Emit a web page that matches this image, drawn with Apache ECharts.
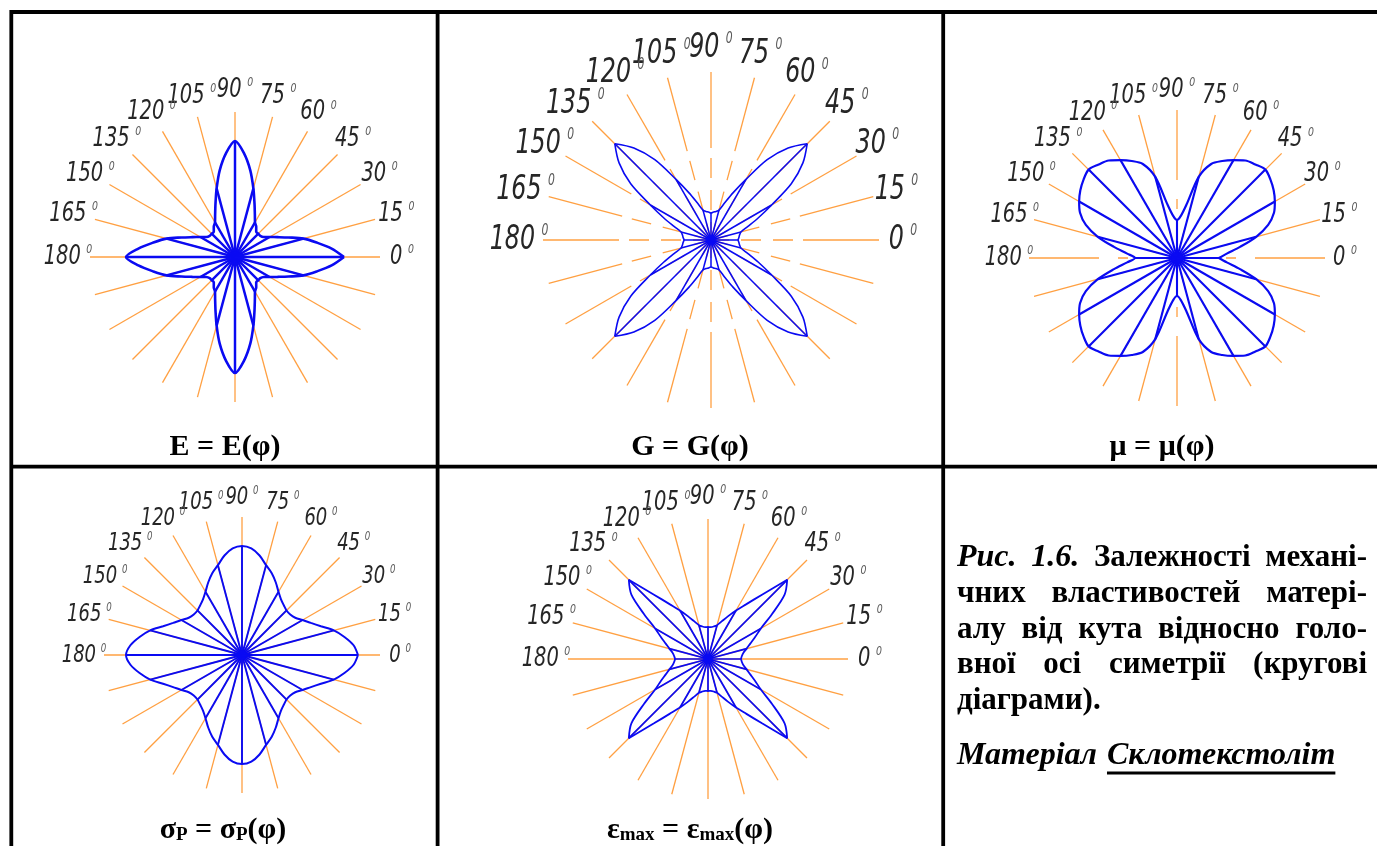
<!DOCTYPE html>
<html><head><meta charset="utf-8">
<script src="https://cdn.jsdelivr.net/npm/echarts@6/dist/echarts.min.js"></script>
<style>html,body{margin:0;padding:0;background:#fff}#c{width:1377px;height:846px}</style>
</head><body><div id="c"></div>
<script>
// ---------- data ----------
const angles = [0,5,10,15,20,25,30,35,40,45,50,55,60,65,70,75,80,85,90,95,100,105,110,115,120,125,130,135,140,145,150,155,160,165,170,175,180,185,190,195,200,205,210,215,220,225,230,235,240,245,250,255,260,265,270,275,280,285,290,295,300,305,310,315,320,325,330,335,340,345,350,355];
const spokeAngles = [0,15,30,45,60,75,90,105,120,135,150,165,180,195,210,225,240,255,270,285,300,315,330,345];
const labelAngles = [0,15,30,45,60,75,90,105,120,135,150,165,180];

// E = E(phi)
const rE = [109,97,83,71,57,47,40,35,33,33,33,37,40,47,57,71,88,104,116,
            104,88,71,57,47,40,37,33,33,33,35,40,47,57,71,83,97,
            109,97,83,71,57,47,40,35,33,33,33,37,40,47,57,71,88,104,116,
            104,88,71,57,47,40,37,33,33,33,35,40,47,57,71,83,97];
// G = G(phi)
const rG = [27,28,29,31,39,52,70,98,120,136,120,98,70,52,39,31,29,28,
            27,28,29,31,39,52,70,98,120,136,120,98,70,52,39,31,29,28,
            27,28,29,31,39,52,70,98,120,136,120,98,70,52,39,31,29,28,
            27,28,29,31,39,52,70,98,120,136,120,98,70,52,39,31,29,28];
// mu = mu(phi)
const rMu = [42,50,64,82,97,107,113,118,122,125,122,119,113,107,100,84,54,42,38,
             42,54,84,100,107,113,119,122,125,122,118,113,107,97,82,64,50,
             42,50,64,82,97,107,113,118,122,125,122,119,113,107,100,84,54,42,38,
             42,54,84,100,107,113,119,122,125,122,118,113,107,97,82,64,50];
// sigmaP = sigmaP(phi)
const rSigma = [116,112,104,95,84,76,70,65,63,63,65,68,73,80,87,93,101,107,109,
                107,101,93,87,80,73,68,65,63,63,65,70,76,84,95,104,112,
                116,112,104,95,84,76,70,65,63,63,65,68,73,80,87,93,101,107,109,
                107,101,93,87,80,73,68,65,63,63,65,70,76,84,95,104,112];
// eps_max = eps_max(phi)
const rEps = [33,34,36,40,45,52,61,78,100,112,84,67,56,47,40,35,33,32,32,
              32,33,35,40,47,56,67,84,112,100,78,61,52,45,40,36,34,
              33,34,36,40,45,52,61,78,100,112,84,67,56,47,40,35,33,32,32,
              32,33,35,40,47,56,67,84,112,100,78,61,52,45,40,36,34];

const titles = [
  [['E = E(φ)','b']],
  [['G = G(φ)','b']],
  [['μ = μ(φ)','b']],
  [['σ','b'],['P','s'],[' = σ','b'],['P','s'],['(φ)','b']],
  [['ε','b'],['max','s'],[' = ε','b'],['max','s'],['(φ)','b']]
];
const captionLines = [
  [['Рис.','bi'],['1.6.','bi'],['Залежності','b'],['механі-','b']],
  [['чних','b'],['властивостей','b'],['матері-','b']],
  [['алу','b'],['від','b'],['кута','b'],['відносно','b'],['голо-','b']],
  [['вної','b'],['осі','b'],['симетрії','b'],['(кругові','b']],
  [['діаграми).','b']]
];
const materialLabel = 'Матеріал';
const materialName = 'Склотекстоліт';

// ---------- layout / style ----------
const BLUE = '#0a0af2', ORANGE = '#ffa042';
const LABEL_FONT = "'Liberation Sans Narrow','DejaVu Sans Condensed','Roboto Condensed',Roboto,sans-serif";
const SERIF = "'Liberation Serif','Times New Roman','DejaVu Serif',serif";
const cfgs = [
  {vals:rE,     cx:235,  cy:257, R:145, labelR:167, fs:27, sfs:13, lw:2.6, dot:12, solidFrom:0,  tx:225,  ty:447},
  {vals:rG,     cx:711,  cy:240, R:168, labelR:192, fs:33, sfs:15, lw:1.6, dot:11, solidFrom:92, dash:[20,12], dashOffset:22, tx:690, ty:447},
  {vals:rMu,    cx:1177, cy:258, R:148, labelR:168, fs:27, sfs:13, lw:2.2, dot:12, solidFrom:78, dash:[10,19], dashOffset:10, tx:1162, ty:447},
  {vals:rSigma, cx:242,  cy:655, R:138, labelR:158, fs:25, sfs:12, lw:2.0, dot:10, solidFrom:0,  tx:223,  ty:830},
  {vals:rEps,   cx:708,  cy:659, R:140, labelR:162, fs:27, sfs:13, lw:1.8, dot:10, solidFrom:0,  tx:690,  ty:830}
];

const chart = echarts.init(document.getElementById('c'), null, {renderer:'canvas', width:1377, height:846});

const polar = [], angleAxis = [], radiusAxis = [], series = [];
cfgs.forEach((c, i) => {
  polar.push({center:[c.cx, c.cy], radius:c.R});
  angleAxis.push({polarIndex:i, type:'value', min:0, max:360, interval:15, startAngle:0, clockwise:false,
    axisLine:{show:false}, axisTick:{show:false}, axisLabel:{show:false}, splitLine:{show:false}});
  radiusAxis.push({polarIndex:i, type:'value', min:0, max:c.R,
    axisLine:{show:false}, axisTick:{show:false}, axisLabel:{show:false}, splitLine:{show:false}, splitArea:{show:false}});

  // orange reference spokes
  series.push({
    type:'custom', coordinateSystem:'polar', polarIndex:i, silent:true, z:1,
    data: spokeAngles.map(a => [0, a]),
    renderItem: (params, api) => {
      const a = api.value(1);
      const pEnd = api.coord([c.R, a]);
      const pMid = api.coord([c.solidFrom, a]);
      const children = [{type:'line', shape:{x1:pMid[0], y1:pMid[1], x2:pEnd[0], y2:pEnd[1]},
        style:{stroke:ORANGE, lineWidth:1.3}}];
      if (c.solidFrom > 0) {
        const p0 = api.coord([0, a]);
        children.push({type:'line', shape:{x1:pMid[0], y1:pMid[1], x2:p0[0], y2:p0[1]},
          style:{stroke:ORANGE, lineWidth:1.3, lineDash:c.dash, lineDashOffset:c.dashOffset}});
      }
      return {type:'group', children};
    }
  });
  // blue curve
  const curve = angles.map((a, k) => [c.vals[k], a]);
  curve.push([c.vals[0], 360]);
  series.push({
    type:'line', coordinateSystem:'polar', polarIndex:i, silent:true, z:3,
    data: curve, showSymbol:false, symbol:'none', smooth:0.3,
    lineStyle:{color:BLUE, width:c.lw}
  });
  // blue spokes at every 15 degrees
  series.push({
    type:'custom', coordinateSystem:'polar', polarIndex:i, silent:true, z:3,
    data: angles.map((a, k) => [c.vals[k], a]).filter(d => spokeAngles.indexOf(d[1]) >= 0),
    renderItem: (params, api) => {
      const a = api.value(1);
      const p0 = api.coord([0, a]);
      const p1 = api.coord([api.value(0), a]);
      return {type:'line', shape:{x1:p0[0], y1:p0[1], x2:p1[0], y2:p1[1]},
        style:{stroke:BLUE, lineWidth:c.lw * 0.95}};
    }
  });
  // centre hub where the spokes meet
  series.push({
    type:'scatter', coordinateSystem:'polar', polarIndex:i, silent:true, z:4,
    data:[[0, 0]], symbol:'circle', symbolSize:c.dot, itemStyle:{color:BLUE}
  });
  // degree labels
  series.push({
    type:'custom', coordinateSystem:'polar', polarIndex:i, silent:true, z:4,
    data: labelAngles.map(a => [0, a]),
    renderItem: (params, api) => {
      const a = api.value(1);
      const p = api.coord([c.labelR, a]);
      return {type:'text', x:p[0], y:p[1], scaleX:0.8, style:{
        text:'{n|' + a + '}{s|0}', align:'center', verticalAlign:'middle',
        rich:{
          n:{fontSize:c.fs, fontFamily:LABEL_FONT, fontStyle:'italic', fill:'#262626'},
          s:{fontSize:c.sfs, fontFamily:LABEL_FONT, fontStyle:'italic', fill:'#5a5a5a', verticalAlign:'top',
             padding:[0,0,0,Math.round(c.fs * 0.25)]}
        }}};
    }
  });
});

// ---------- graphics: table, titles, caption ----------
const graphic = [];
const BW = 3.8;
graphic.push({type:'line', shape:{x1:10, y1:12, x2:1377, y2:12}, style:{stroke:'#000', lineWidth:BW}, z:10});
graphic.push({type:'line', shape:{x1:10, y1:466.7, x2:1377, y2:466.7}, style:{stroke:'#000', lineWidth:BW}, z:10});
[11.3, 437.6, 943.2].forEach(x => graphic.push({type:'line', shape:{x1:x, y1:10.1, x2:x, y2:846}, style:{stroke:'#000', lineWidth:BW}, z:10}));

const TFS = 30;
cfgs.forEach((c, i) => {
  let txt = '';
  titles[i].forEach(t => { txt += '{' + t[1] + '|' + t[0] + '}'; });
  graphic.push({type:'text', x:c.tx, y:c.ty, z:10, style:{
    text:txt, align:'center', verticalAlign:'middle',
    rich:{
      b:{fontSize:TFS, fontFamily:SERIF, fontWeight:'bold', fill:'#000'},
      s:{fontSize:19, fontFamily:SERIF, fontWeight:'bold', fill:'#000', verticalAlign:'bottom'}
    }}});
});

const CFS_B = 31, CFS_I = 32;
const ctx = document.createElement('canvas').getContext('2d');
const fontOf = k => (k === 'bi' ? 'italic bold ' + CFS_I : 'bold ' + CFS_B) + 'px ' + SERIF;
const measure = (t, k) => { ctx.font = fontOf(k); return ctx.measureText(t).width; };
const capLeft = 957, capRight = 1367;
const capBaselines = [568, 604, 640, 675, 711];
const spaceW = measure(' ', 'b');
captionLines.forEach((words, li) => {
  const widths = words.map(w => measure(w[0], w[1]));
  const total = widths.reduce((s, v) => s + v, 0);
  const justify = li < captionLines.length - 1 && words.length > 1;
  const gap = justify ? (capRight - capLeft - total) / (words.length - 1) : spaceW;
  let x = capLeft;
  words.forEach((w, k) => {
    const fs = w[1] === 'bi' ? CFS_I : CFS_B;
    graphic.push({type:'text', x:x, y:capBaselines[li] - fs * 0.32, z:10, style:{
      text:w[0], font:fontOf(w[1]), fill:'#000', align:'left', verticalAlign:'middle'}});
    x += widths[k] + gap;
  });
});
const matY = 766;
const matW = measure(materialLabel, 'bi');
const nameX = capLeft + matW + 10;
const nameW = measure(materialName, 'bi');
graphic.push({type:'text', x:capLeft, y:matY - CFS_I * 0.32, z:10, style:{text:materialLabel, font:fontOf('bi'), fill:'#000', align:'left', verticalAlign:'middle'}});
graphic.push({type:'text', x:nameX, y:matY - CFS_I * 0.32, z:10, style:{text:materialName, font:fontOf('bi'), fill:'#000', align:'left', verticalAlign:'middle'}});
graphic.push({type:'line', shape:{x1:nameX, y1:matY + 7, x2:nameX + nameW, y2:matY + 7}, style:{stroke:'#000', lineWidth:3}, z:10});

chart.setOption({
  animation:false,
  backgroundColor:'#fff',
  polar, angleAxis, radiusAxis, series, graphic
});
</script>
</body></html>
